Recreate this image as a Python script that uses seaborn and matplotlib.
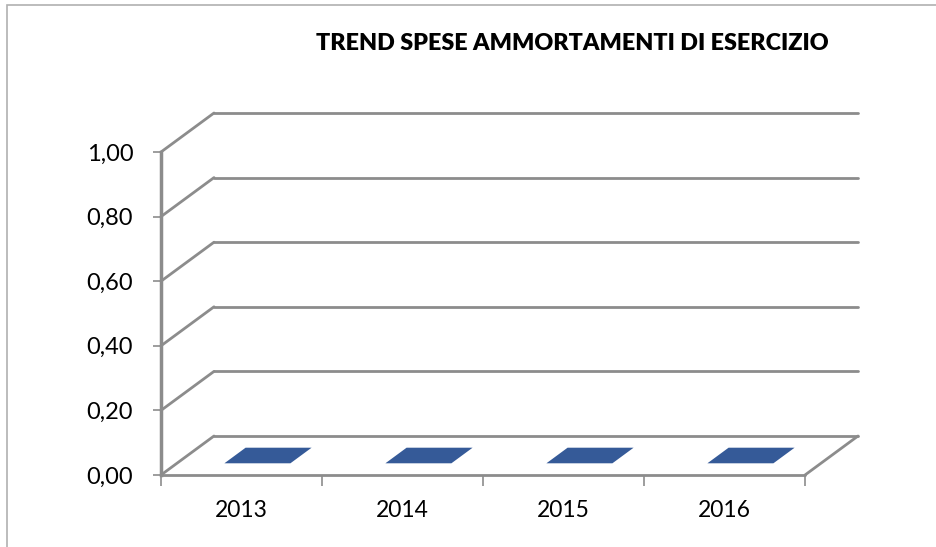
import numpy as np
import matplotlib
matplotlib.use('Agg')
import matplotlib.pyplot as plt
import matplotlib.transforms as mtransforms
import seaborn as sns

# Data
years = ['2013', '2014', '2015', '2016']
values = [0.0, 0.0, 0.0, 0.0]
y_ticks = [0.0, 0.2, 0.4, 0.6, 0.8, 1.0]
y_labels = ['0,00', '0,20', '0,40', '0,60', '0,80', '1,00']
title = 'TREND SPESE AMMORTAMENTI DI ESERCIZIO'

sns.set_style('white')
plt.rcParams['font.family'] = ['Lato', 'DejaVu Sans']

W, H = 936, 547
fig = plt.figure(figsize=(W / 100, H / 100), dpi=100)
ax = fig.add_axes([161 / W, (H - 475) / H, 644 / W, 323 / H])

grid_col = '#8c8c8c'
bar_col = '#355a98'
depth_px = (53, 39)   # pseudo-3D depth offset in pixels
bar_w = 0.41
bar_d0, bar_d1 = 0.3, 0.7

ax.set_xlim(-0.5, len(years) - 0.5)
ax.set_ylim(0, 1)

# depth offset in data units
dx = depth_px[0] * (len(years)) / 644
dy = depth_px[1] * 1.0 / 323

# back wall gridlines + left side diagonals
x0, x1 = -0.5, len(years) - 0.5
for t in y_ticks:
    ax.plot([x0 + dx, x1 + dx], [t + dy, t + dy], color=grid_col, lw=2, clip_on=False, zorder=1)
    ax.plot([x0, x0 + dx], [t, t + dy], color=grid_col, lw=2, clip_on=False, zorder=1)
# floor: front edge and right side
ax.plot([x0, x1], [0, 0], color=grid_col, lw=2, clip_on=False, zorder=1)
ax.plot([x1, x1 + dx], [0, dy], color=grid_col, lw=2, clip_on=False, zorder=1)

# bars: front faces through seaborn, shifted into depth
sns.barplot(x=years, y=values, color=bar_col, width=bar_w, saturation=1,
            linewidth=0, ax=ax, zorder=3)
shift = mtransforms.offset_copy(ax.transData, fig=fig, x=depth_px[0] * bar_d0,
                                y=depth_px[1] * bar_d0, units='dots')
for p in ax.patches:
    p.set_transform(shift)
    p.set_clip_on(False)

# bar top faces
for i, v in enumerate(values):
    xl, xr = i - bar_w / 2, i + bar_w / 2
    xs = [xl + dx * bar_d0, xr + dx * bar_d0, xr + dx * bar_d1, xl + dx * bar_d1]
    ys = [v + dy * bar_d0, v + dy * bar_d0, v + dy * bar_d1, v + dy * bar_d1]
    ax.fill(xs, ys, color=bar_col, lw=0, clip_on=False, zorder=4)

for s in ['top', 'right', 'bottom']:
    ax.spines[s].set_visible(False)
ax.spines['left'].set_color(grid_col)
ax.spines['left'].set_linewidth(2.5)

ax.set_yticks(y_ticks)
ax.set_yticklabels(y_labels)
ax.tick_params(axis='y', length=6, width=1.2, color=grid_col, pad=14,
               labelsize=17, labelcolor='black', left=True)
ax.set_xticks(range(len(years)))
ax.set_xticklabels(years)
ax.set_xticks(np.arange(-0.5, len(years)), minor=True)
ax.tick_params(axis='x', which='major', length=0, pad=18, labelsize=16.5, labelcolor='black')
ax.tick_params(axis='x', which='minor', length=8, width=1.2, color=grid_col, bottom=True)
ax.set_xlabel('')
ax.set_ylabel('')
ax.grid(False)

fig.text(572 / W, 1 - 44 / H, title, ha='center', va='center',
         fontsize=16.8, fontweight='heavy', color='black')

# chart area border
fig.patches.append(plt.Rectangle((7 / W, -0.1), 1.2, 1 - 5 / H + 0.1, transform=fig.transFigure,
                                 fill=False, edgecolor='#b0b0b0', lw=1.2))

fig.savefig('out.png', dpi=100)
